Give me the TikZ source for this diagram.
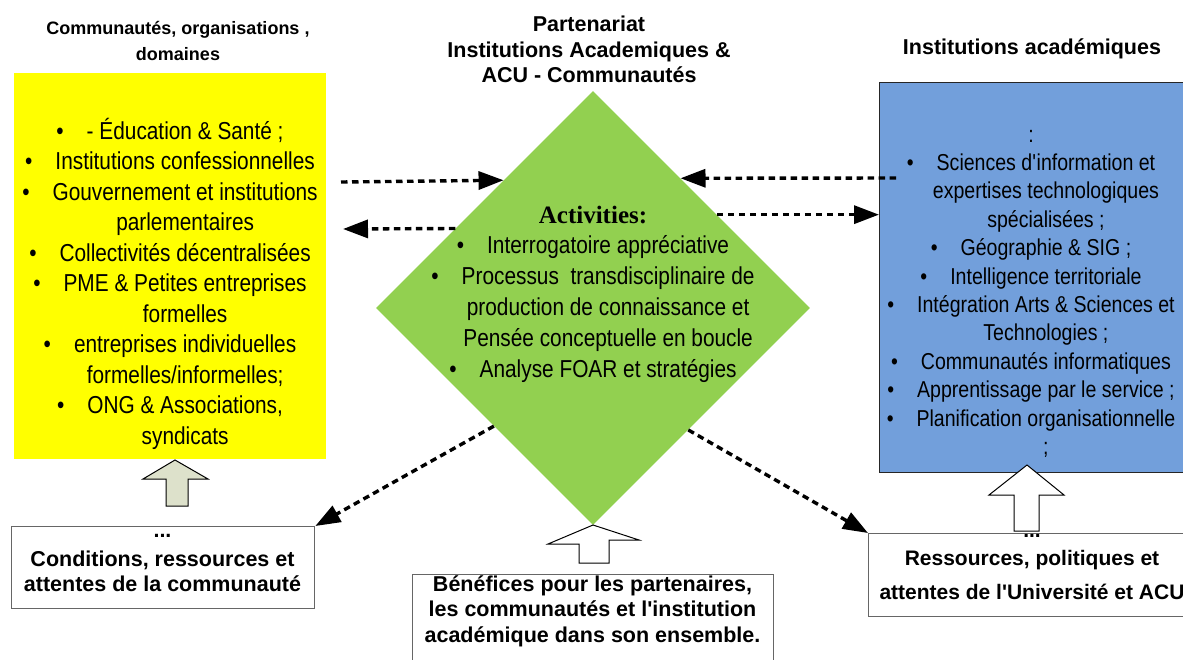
\documentclass[tikz,border=0pt]{standalone}
\usepackage{fontspec}
\setmainfont{Liberation Sans}
\newfontfamily\narrowsans[FakeStretch=0.85]{Liberation Sans}
\newfontfamily\titleserif{Liberation Serif}
\usetikzlibrary{arrows.meta,positioning,shapes.geometric}

\definecolor{commyellow}{HTML}{FFFF00}
\definecolor{actgreen}{HTML}{92D050}
\definecolor{acadblue}{HTML}{729FDB}
\definecolor{arrowgrey}{HTML}{DDE1CB}

\newcommand{\bitem}{\textbullet\hspace{23pt}}
\newcommand{\bcont}{\hphantom{\textbullet}\hspace{23pt}}
\newcommand{\apos}{\textquotesingle}

\tikzset{
  heading/.style={font=\bfseries\fontsize{21.5}{25.5}\selectfont, align=center, inner sep=0pt, anchor=north},
  listtext/.style={font=\narrowsans\fontsize{24.5}{30.5}\selectfont, align=center, inner sep=0pt, anchor=north},
  boxtext/.style={font=\bfseries\fontsize{21.5}{25}\selectfont, align=center, inner sep=0pt, anchor=north},
  whitebox/.style={draw=black!60, line width=1.3pt, fill=white, inner sep=0pt, anchor=north west},
  dashlink/.style={line width=3.4pt, dash pattern=on 6.5pt off 4.5pt, -{Triangle[length=25pt,width=18pt]}},
  blockarrow/.style={draw=black, line width=1pt},
}

\begin{document}
\begin{tikzpicture}[x=1pt,y=-1pt]

\useasboundingbox (0,0) rectangle (1183,659);
\clip (0,0) rectangle (1183,659);

% Titles
\node[heading, font=\bfseries\fontsize{18}{26}\selectfont] (commtitle) at (178,15.8) {\strut Communautés, organisations ,\\domaines};
\node[heading] (parttitle) at (589,13.9) {\strut Partenariat\\Institutions Academiques \&\\ACU - Communautés};
\node[heading] (acadtitle) at (1032,36.9) {\strut Institutions académiques};

% Communities box
\node[fill=commyellow, minimum width=312pt, minimum height=386pt, inner sep=0pt, anchor=north west] (comm) at (14,73) {};
\node[listtext] (commlist) at (170,117.5) {\strut\bitem - Éducation \& Santé ;\\
  \bitem Institutions confessionnelles\\
  \bitem Gouvernement et institutions\\
  \bcont parlementaires\\
  \bitem Collectivités décentralisées\\
  \bitem PME \& Petites entreprises\\
  \bcont formelles\\
  \bitem entreprises individuelles\\
  \bcont formelles/informelles;\\
  \bitem ONG \& Associations,\\
  \bcont syndicats};

% Academic box
\node[draw=black!85, line width=1.2pt, fill=acadblue, minimum width=312pt, minimum height=390pt, inner sep=0pt, anchor=north west] (acad) at (879,82) {};
\node[listtext, font=\narrowsans\fontsize{23}{28.4}\selectfont] (acadlist) at (1031,122) {\strut :\\
  \bitem Sciences d\apos information et\\
  \bcont expertises technologiques\\
  \bcont spécialisées ;\\
  \bitem Géographie \& SIG ;\\
  \bitem Intelligence territoriale\\
  \bitem Intégration Arts \& Sciences et\\
  \bcont Technologies ;\\
  \bitem Communautés informatiques\\
  \bitem Apprentissage par le service ;\\
  \bitem Planification organisationnelle\\
  \bcont ;};

% Activities diamond
\node[diamond, fill=actgreen, minimum width=434pt, minimum height=434pt, inner sep=0pt] (act) at (593,308) {};
\node[listtext, font=\narrowsans\fontsize{24.5}{30.8}\selectfont] (actlist) at (593,201.4) {\strut{\titleserif\bfseries\fontsize{25}{30.8}\selectfont Activities:}\\
  \bitem Interrogatoire appréciative\\
  \bitem Processus~ transdisciplinaire de\\
  \bcont production de connaissance et\\
  \bcont Pensée conceptuelle en boucle\\
  \bitem Analyse FOAR et stratégies};

% Bottom boxes
\node[whitebox, minimum width=303pt, minimum height=82pt] (cond) at (11,526) {};
\node[boxtext] (condtxt) at (162.5,519.5) {\strut...\\[4pt]Conditions, ressources et\\attentes de la communauté};

\node[whitebox, minimum width=361pt, minimum height=110pt] (benef) at (412,574) {};
\node[boxtext, font=\bfseries\fontsize{21.5}{25.5}\selectfont] (beneftxt) at (592.5,573) {\strut Bénéfices pour les partenaires,\\les communautés et l\apos institution\\académique dans son ensemble.};

\node[whitebox, minimum width=328pt, minimum height=83pt] (res) at (868,533) {};
\node[boxtext, font=\bfseries\fontsize{21}{25}\selectfont] (restxt) at (1032,519.5) {\strut...\\[3.5pt]Ressources, politiques et\\[9pt]attentes de l\apos Université et ACU};

% Block arrows
\draw[blockarrow, fill=arrowgrey] (175,460) -- (208,479) -- (188,479) -- (188,506) -- (166,506) -- (166,479) -- (143,479) -- cycle;
\draw[blockarrow, fill=white] (593,525) -- (639,540) -- (609,540) -- (609,563) -- (579,563) -- (579,544) -- (548,544) -- cycle;
\draw[blockarrow, fill=white] (1027,465) -- (1064,495) -- (1039,495) -- (1039,531) -- (1014,531) -- (1014,495) -- (989,495) -- cycle;

% Dashed links
\coordinate (commout) at (341,182);
\coordinate (commin) at (343,229);
\coordinate (acadout) at (896,178);

\draw[dashlink] (commout) -- (act.125.8);
\draw[dashlink] (act.150.2) -- (commin);
\draw[dashlink] (acadout) -- (act.56.2);
\draw[dashlink] (act.37.4) -- (act.37.4 -| acad.west);
\draw[dashlink] (act.230.2) -- (cond.north east);
\draw[dashlink] (act.308.7) -- (res.north west);

\end{tikzpicture}
\end{document}
